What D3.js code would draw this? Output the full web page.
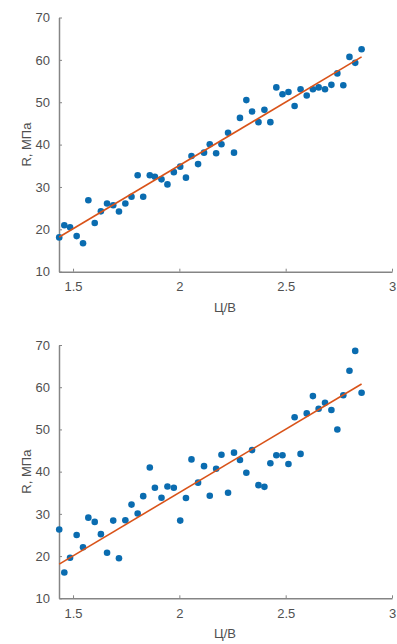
<!DOCTYPE html>
<html>
<head>
<meta charset="utf-8">
<script src="https://cdn.jsdelivr.net/npm/d3@7"></script>
<style>
  html, body { margin: 0; padding: 0; background: #fff; }
  svg { display: block; }
  text { font-family: "Liberation Sans", Arial, sans-serif; }
</style>
</head>
<body>
<div id="chart"></div>
<script>
// ---- data ----
const xValues = [1.435, 1.459, 1.486, 1.517, 1.547, 1.572, 1.602, 1.631, 1.660, 1.689,
  1.716, 1.746, 1.775, 1.804, 1.830, 1.861, 1.885, 1.916, 1.944, 1.974,
  2.004, 2.031, 2.057, 2.088, 2.116, 2.143, 2.173, 2.198, 2.229, 2.257,
  2.285, 2.315, 2.342, 2.372, 2.400, 2.428, 2.456, 2.485, 2.513, 2.542,
  2.570, 2.599, 2.628, 2.655, 2.685, 2.715, 2.743, 2.771, 2.800, 2.827, 2.857];

const topR = [18.1, 20.95, 20.5, 18.4, 16.7, 26.85, 21.5, 24.25, 26.1, 25.7,
  24.2, 26.1, 27.7, 32.75, 27.7, 32.75, 32.4, 31.8, 30.6, 33.5,
  34.8, 32.2, 37.3, 35.4, 38.1, 40.1, 37.95, 40.1, 42.8, 38.1,
  46.3, 50.5, 47.8, 45.3, 48.2, 45.3, 53.5, 51.9, 52.4, 49.1,
  53.05, 51.6, 53.05, 53.5, 53.05, 54.1, 56.8, 54.0, 60.7, 59.3, 62.5];

const bottomR = [26.3, 16.1, 19.6, 25.0, 22.1, 29.1, 28.1, 25.2, 20.8, 28.4,
  19.5, 28.5, 32.2, 30.1, 34.2, 41.0, 36.2, 33.8, 36.5, 36.2,
  28.4, 33.75, 42.9, 37.4, 41.3, 34.3, 40.7, 44.0, 35.0, 44.5,
  42.75, 39.75, 45.1, 36.8, 36.4, 42.0, 43.9, 43.9, 41.8, 52.9,
  44.2, 53.8, 57.9, 54.9, 56.3, 54.6, 50.0, 58.1, 63.9, 68.6, 58.7];

// fitted line endpoints (x, R)
const fitX = [1.435, 2.857];
const fitTop = [18.2, 60.7];
const fitBottom = [18.1, 60.75];

const xTicks = [1.5, 2, 2.5, 3];
const xTickLabels = ["1.5", "2", "2.5", "3"];
const yTicks = [10, 20, 30, 40, 50, 60, 70];
const xLabel = "Ц/В";
const yLabel = "R, МПа";

// ---- drawing ----
const W = 397, H = 644;
const svg = d3.select("#chart").append("svg").attr("width", W).attr("height", H);

const axisColor = "#858585";
const textColor = "#505050";
const dotColor = "#0a6cb0";
const lineColor = "#D95319";

const x = d3.scaleLinear().domain([1.434, 3]).range([59, 392]);

function panel(yTop, yBottom, values, fit) {
  const y = d3.scaleLinear().domain([10, 70]).range([yBottom, yTop]);
  const g = svg.append("g");

  // x axis
  const xa = g.append("g").attr("transform", `translate(0,${yBottom})`)
    .call(d3.axisBottom(x).tickValues(xTicks).tickFormat((d, i) => xTickLabels[i])
      .tickSizeInner(-3).tickSizeOuter(0).tickPadding(10));
  xa.select(".domain").attr("stroke", axisColor).attr("stroke-width", 1.5);
  xa.selectAll(".tick line").attr("stroke", axisColor);
  xa.selectAll("text").attr("fill", textColor).attr("font-size", 13);

  // y axis
  const ya = g.append("g").attr("transform", `translate(59,0)`)
    .call(d3.axisLeft(y).tickValues(yTicks).tickSizeInner(-3).tickSizeOuter(0).tickPadding(9));
  ya.select(".domain").attr("stroke", axisColor).attr("stroke-width", 1.5);
  ya.selectAll(".tick line").attr("stroke", axisColor);
  ya.selectAll("text").attr("fill", textColor).attr("font-size", 13);

  // axis labels
  g.append("text").attr("x", 225).attr("y", yBottom + 40)
    .attr("text-anchor", "middle").attr("fill", textColor).attr("font-size", 13)
    .text(xLabel);
  g.append("text")
    .attr("transform", `translate(31,${(yTop + yBottom) / 2}) rotate(-90)`)
    .attr("text-anchor", "middle").attr("fill", textColor).attr("font-size", 13)
    .text(yLabel);

  // points
  g.append("g").selectAll("circle").data(values).join("circle")
    .attr("cx", (d, i) => x(xValues[i]))
    .attr("cy", d => y(d))
    .attr("r", 3.3)
    .attr("fill", dotColor);

  // fit line
  g.append("path")
    .datum(fitX.map((v, i) => [v, fit[i]]))
    .attr("d", d3.line().x(d => x(d[0])).y(d => y(d[1])))
    .attr("fill", "none").attr("stroke", lineColor).attr("stroke-width", 1.6);
}

panel(17.5, 271.7, topR, fitTop);
panel(345, 598.3, bottomR, fitBottom);
</script>
</body>
</html>
